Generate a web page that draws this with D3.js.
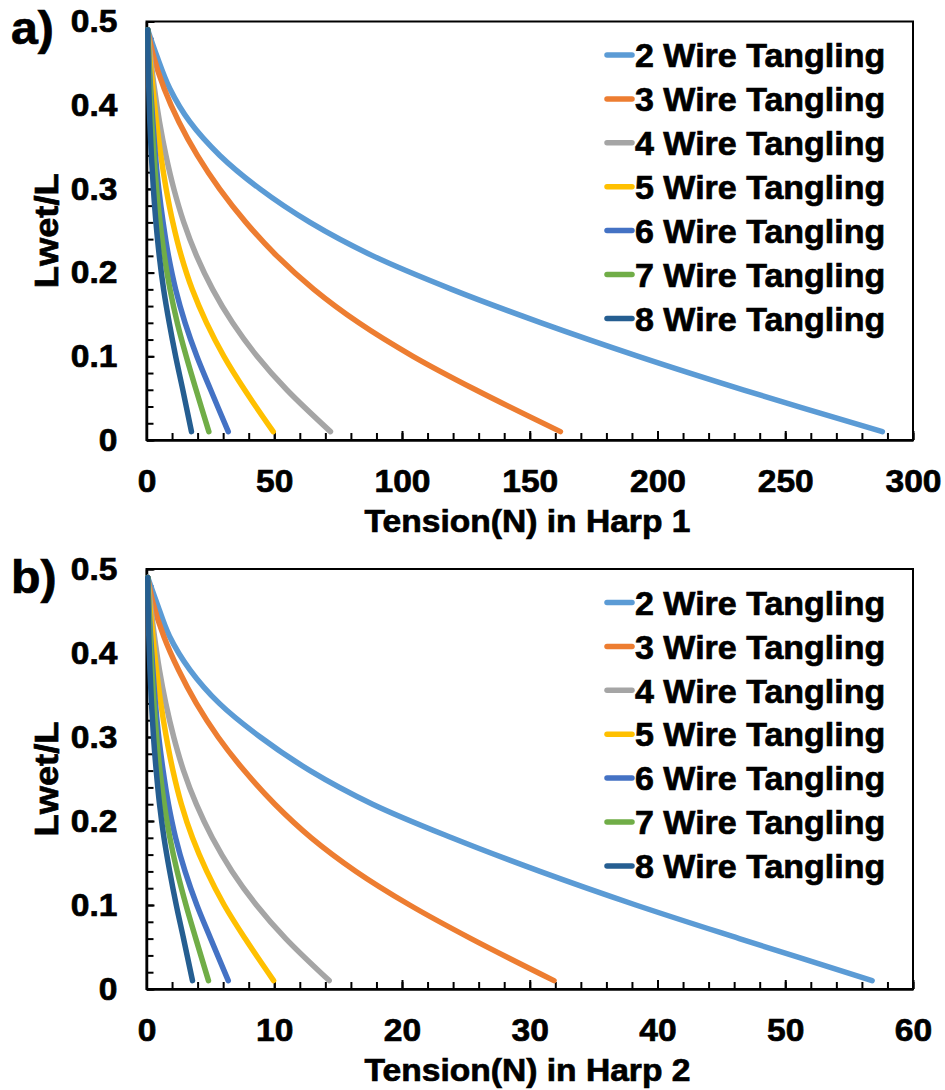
<!DOCTYPE html>
<html>
<head>
<meta charset="utf-8">
<script src="https://cdn.jsdelivr.net/npm/d3@7"></script>
<style>
  body { margin: 0; background: #fff; }
  text { font-family: "Liberation Sans", Arial, sans-serif; font-weight: bold; fill: #000; stroke: #000; stroke-width: 0.7px; }
</style>
</head>
<body>
<div id="chart"></div>
<script>
var lwetLevels = [0.49, 0.46, 0.42, 0.38, 0.34, 0.30, 0.26, 0.22, 0.18, 0.14, 0.10, 0.06, 0.01];

var seriesNames = ["2 Wire Tangling", "3 Wire Tangling", "4 Wire Tangling", "5 Wire Tangling",
                   "6 Wire Tangling", "7 Wire Tangling", "8 Wire Tangling"];
var seriesColors = ["#5B9BD5", "#ED7D31", "#A5A5A5", "#FFC000", "#4472C4", "#70AD47", "#255E91"];

// Harp 1 tension (N), one list per series, same order as lwetLevels
var harp1Wire2 = [0.5, 3.9, 9.1, 17.0, 28.7, 44.4, 64.0, 88.6, 119.5, 154.5, 192.5, 233.5, 288];
var harp1Wire3 = [0.5, 2.6, 6.9, 12.7, 19.9, 28.6, 38.9, 51.0, 65.5, 83.1, 104.3, 128.8, 162];
var harp1Wire4 = [0.5, 1.5, 3.1, 5.1, 7.6, 10.7, 14.6, 19.6, 25.9, 33.7, 43.3, 54.9, 72.0];
var harp1Wire5 = [0.5, 1.2, 2.5, 3.9, 5.6, 7.7, 10.3, 13.6, 17.9, 23.5, 30.3, 38.4, 49.6];
var harp1Wire6 = [0.5, 0.9, 1.6, 2.5, 3.5, 4.8, 6.5, 8.6, 11.4, 15.1, 19.7, 25.1, 32.0];
var harp1Wire7 = [0.5, 0.8, 1.35, 2.05, 2.9, 3.95, 5.3, 7.0, 9.2, 12.05, 15.55, 19.4, 24.4];
var harp1Wire8 = [0.5, 0.6, 0.9, 1.3, 1.9, 2.7, 3.7, 5.0, 6.7, 8.9, 11.4, 14.2, 17.6];

// Harp 2 tension (N)
var harp2Wire2 = [0.1, 0.8, 1.8, 3.4, 5.7, 8.9, 12.8, 17.7, 23.9, 30.8, 38.3, 46.4, 56.8];
var harp2Wire3 = [0.1, 0.5, 1.35, 2.5, 3.9, 5.6, 7.65, 10.05, 12.9, 16.4, 20.6, 25.4, 31.9];
var harp2Wire4 = [0.1, 0.3, 0.62, 1.01, 1.51, 2.13, 2.9, 3.9, 5.15, 6.7, 8.6, 10.9, 14.3];
var harp2Wire5 = [0.1, 0.24, 0.5, 0.78, 1.12, 1.55, 2.07, 2.73, 3.6, 4.72, 6.08, 7.72, 9.95];
var harp2Wire6 = [0.1, 0.18, 0.32, 0.5, 0.7, 0.96, 1.3, 1.72, 2.28, 3.02, 3.94, 5.02, 6.4];
var harp2Wire7 = [0.1, 0.16, 0.27, 0.41, 0.58, 0.79, 1.05, 1.39, 1.83, 2.4, 3.09, 3.86, 4.85];
var harp2Wire8 = [0.1, 0.12, 0.18, 0.27, 0.39, 0.55, 0.76, 1.02, 1.37, 1.82, 2.33, 2.9, 3.6];

var harp1Ticks = [0, 50, 100, 150, 200, 250, 300];
var harp2Ticks = [0, 10, 20, 30, 40, 50, 60];
var yTicks = [0, 0.1, 0.2, 0.3, 0.4, 0.5];

var W = 945, H = 1090;
var sx = 1.05;   // text in the picture is a little wider than Arial

var svg = d3.select("#chart").append("svg")
    .attr("width", W)
    .attr("height", H);

function drawPanel(p) {
    var left = 146.5, right = 913, top = p.top, bottom = p.bottom;

    var x = d3.scaleLinear().domain([0, p.xMax]).range([left, right]);
    var y = d3.scaleLinear().domain([0, 0.5]).range([bottom, top]);

    var g = svg.append("g");

    // plot frame
    g.append("rect")
        .attr("x", left).attr("y", top)
        .attr("width", right - left).attr("height", bottom - top)
        .attr("fill", "none").attr("stroke", "#000").attr("stroke-width", 2);

    // minor ticks
    g.append("g")
        .attr("transform", "translate(0," + bottom + ")")
        .call(d3.axisBottom(x).tickValues(d3.range(0, p.xMax + 0.001, p.xMinor)).tickSize(-7).tickSizeOuter(0).tickFormat(""))
        .call(a => a.select(".domain").remove())
        .selectAll("line").attr("stroke-width", 2);
    g.append("g")
        .attr("transform", "translate(" + left + ",0)")
        .call(d3.axisLeft(y).tickValues(d3.range(0, 0.501, 0.02)).tickSize(-7).tickSizeOuter(0).tickFormat(""))
        .call(a => a.select(".domain").remove())
        .selectAll("line").attr("stroke-width", 2);

    // major ticks and labels
    var xa = g.append("g")
        .attr("transform", "translate(0," + bottom + ")")
        .call(d3.axisBottom(x).tickValues(p.xTicks).tickSize(-9).tickSizeOuter(0).tickPadding(29));
    xa.select(".domain").attr("stroke-width", 2.5);
    xa.selectAll("line").attr("stroke-width", 2);
    xa.selectAll("text")
        .attr("font-size", 32)
        .attr("font-family", "Liberation Sans, Arial, sans-serif")
        .attr("font-weight", "bold")
        .attr("transform", "scale(" + sx + ",1)");

    var ya = g.append("g")
        .attr("transform", "translate(" + left + ",0)")
        .call(d3.axisLeft(y).tickValues(yTicks).tickSize(-8).tickSizeOuter(0).tickFormat(d3.format(".1~f")));
    ya.select(".domain").attr("stroke-width", 2.5);
    ya.selectAll("line").attr("stroke-width", 2);
    ya.selectAll("text")
        .attr("font-size", 32)
        .attr("font-family", "Liberation Sans, Arial, sans-serif")
        .attr("font-weight", "bold")
        .attr("x", -29 / sx)
        .attr("transform", "scale(" + sx + ",1)");

    // curves
    var line = d3.line()
        .x(d => x(d[0]))
        .y(d => y(d[1]))
        .curve(d3.curveCatmullRom.alpha(0.5));

    p.series.forEach(function(vals, i) {
        var pts = vals.map((t, k) => [t, lwetLevels[k]]);
        g.append("path")
            .datum(pts)
            .attr("d", line)
            .attr("fill", "none")
            .attr("stroke", seriesColors[i])
            .attr("stroke-width", 5.5)
            .attr("stroke-linecap", "round")
            .attr("stroke-linejoin", "round");
    });

    // legend
    var leg = g.append("g");
    seriesNames.forEach(function(name, i) {
        var cy = top + 33.5 + i * 43.9;
        leg.append("line")
            .attr("x1", 607).attr("x2", 632)
            .attr("y1", cy).attr("y2", cy)
            .attr("stroke", seriesColors[i])
            .attr("stroke-width", 5.5)
            .attr("stroke-linecap", "round");
        leg.append("g")
            .attr("transform", "translate(635," + cy + ")")
            .append("text")
            .attr("dy", "0.36em")
            .attr("font-size", 34)
            .text(name);
    });

    // axis titles
    g.append("g")
        .attr("transform", "translate(527.5," + (bottom + 91.7) + ") scale(" + sx + ",1)")
        .append("text")
        .attr("text-anchor", "middle")
        .attr("font-size", 32)
        .text(p.xTitle);

    g.append("g")
        .attr("transform", "translate(58," + ((top + bottom) / 2) + ") rotate(-90) scale(1.1,1)")
        .append("text")
        .attr("text-anchor", "middle")
        .attr("font-size", 33)
        .text("Lwet/L");

    // panel letter
    g.append("g")
        .attr("transform", "translate(11," + p.letterY + ") scale(1.05,1)")
        .append("text")
        .attr("font-size", 46)
        .text(p.letter);
}

drawPanel({
    top: 21.5, bottom: 440, xMax: 300, xMinor: 10, xTicks: harp1Ticks,
    xTitle: "Tension(N) in Harp 1", letter: "a)", letterY: 44,
    series: [harp1Wire2, harp1Wire3, harp1Wire4, harp1Wire5, harp1Wire6, harp1Wire7, harp1Wire8]
});

drawPanel({
    top: 569, bottom: 989, xMax: 60, xMinor: 2, xTicks: harp2Ticks,
    xTitle: "Tension(N) in Harp 2", letter: "b)", letterY: 593,
    series: [harp2Wire2, harp2Wire3, harp2Wire4, harp2Wire5, harp2Wire6, harp2Wire7, harp2Wire8]
});
</script>
</body>
</html>
